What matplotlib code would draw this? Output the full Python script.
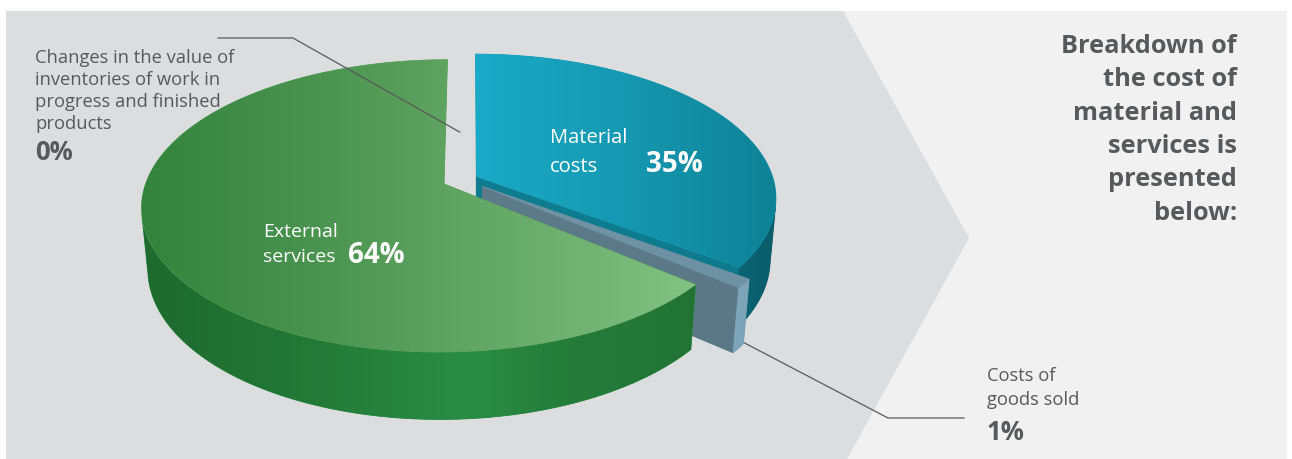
import numpy as np
import matplotlib.pyplot as plt
from matplotlib.colors import LinearSegmentedColormap
from matplotlib.patches import Polygon

W, H = 1292, 459

# cost structure, clockwise from 12 o'clock
labels = ["Material\ncosts", "Costs of\ngoods sold", "External\nservices",
          "Changes in the value of\ninventories of work in\nprogress and finished\nproducts"]
shares = [35, 1, 64, 0]
explode = [0.022, 0.068, 0.098, 0.0]
# small sideways nudge of the thin slice (world units)
nudge = [(0.0, 0.0), (-0.014, -0.018), (0.0, 0.0), (0.0, 0.0)]

TEXT_GREY = "#58595b"
BG_LIGHT = "#f1f1f1"
BG_DARK = "#dcdddf"
FONT = "Open Sans"

# perspective camera for the disc (unit radius, top at z=0)
TILT = np.radians(28.4)
DIST = 5.9
FOCAL = 1750.0
THICK = 0.236
CX, CY = 470.5, 178.0
CAM = np.array([0.0, -DIST * np.cos(TILT), DIST * np.sin(TILT)])


def proj(u, v, z):
    u, v, z = np.asarray(u, float), np.asarray(v, float), np.asarray(z, float)
    depth = DIST + v * np.cos(TILT) - z * np.sin(TILT)
    yc = v * np.sin(TILT) + z * np.cos(TILT)
    return CX + FOCAL * u / depth, CY - FOCAL * yc / depth


def fill_grad(ax, pts, stops, zorder):
    xs = [s[0] for s in stops]
    cols = [s[1] for s in stops]
    base = Polygon(pts, closed=True, facecolor=cols[len(cols) // 2],
                   edgecolor=cols[len(cols) // 2], linewidth=0.6, zorder=zorder)
    ax.add_patch(base)
    x0, x1 = xs[0], xs[-1]
    if x1 == x0:
        return
    pos = [(x - x0) / (x1 - x0) for x in xs]
    cmap = LinearSegmentedColormap.from_list("face", list(zip(pos, cols)))
    im = ax.imshow(np.linspace(0, 1, 512)[None, :], cmap=cmap,
                   extent=(x0, x1, H, 0), aspect="auto",
                   interpolation="bilinear", zorder=zorder + 0.01)
    im.set_clip_path(base)


STYLES = [
    dict(top=[(470, "#1aabc8"), (620, "#1699b2"), (780, "#0e8195")],
         rim=[(700, "#0c6b7b"), (780, "#0a5b69")],
         face=[(470, "#0f7d91"), (760, "#0f7a8d")]),
    dict(top=[(470, "#6e92a3"), (760, "#6e92a3")],
         rim=[(700, "#84abbf"), (760, "#7aa1b4")],
         face=[(470, "#5e7b89"), (760, "#5b7886")]),
    dict(top=[(140, "#33833d"), (300, "#48924e"), (445, "#5ea360"),
              (600, "#73b575"), (705, "#84c485")],
         rim=[(140, "#1e6a2f"), (300, "#237836"), (470, "#2a8d45"),
              (560, "#257d3a"), (705, "#217334")],
         face=[(140, "#237836"), (705, "#237836")]),
    None,
]

fig = plt.figure(figsize=(W / 100, H / 100), dpi=100)
ax = fig.add_axes([0, 0, 1, 1])
ax.set_xlim(0, W)
ax.set_ylim(H, 0)
ax.axis("off")

# background panel with chevron
ax.add_patch(Polygon([(6, 11), (1287, 11), (1287, H), (6, H)],
                     facecolor=BG_LIGHT, edgecolor="none", zorder=0))
ax.add_patch(Polygon([(6, 11), (843, 11), (969, 238), (847, H), (6, H)],
                     facecolor=BG_DARK, edgecolor="none", zorder=0.1))

# slice angles
angles = []
start = 90.0
for s in shares:
    span = s * 3.6
    angles.append((start - span, start))
    start -= span

z = 1.0
slice_offsets = []
for i, (share, (a_lo, a_hi)) in enumerate(zip(shares, angles)):
    mid = np.radians((a_lo + a_hi) / 2)
    off = explode[i] * np.array([np.cos(mid), np.sin(mid)]) + np.array(nudge[i])
    slice_offsets.append(off)
    if share == 0:
        continue
    st = STYLES[i]
    th = np.radians(np.linspace(a_lo, a_hi, 200))
    ru, rv = off[0] + np.cos(th), off[1] + np.sin(th)
    tx, ty = proj(ru, rv, 0)
    bx, by = proj(ru, rv, -THICK)
    ax0, ay0 = proj(off[0], off[1], 0)
    bx0, by0 = proj(off[0], off[1], -THICK)

    # radial cut faces (edge-on ones are left out)
    for a, sign in ((a_lo, -1), (a_hi, 1)):
        ar = np.radians(a)
        n = np.array([np.cos(ar + sign * np.pi / 2), np.sin(ar + sign * np.pi / 2), 0])
        p = np.array([off[0], off[1], -THICK / 2])
        if np.dot(n, CAM - p) <= 0.15:
            continue
        ex, ey = proj(off[0] + np.cos(ar), off[1] + np.sin(ar), 0)
        fx, fy = proj(off[0] + np.cos(ar), off[1] + np.sin(ar), -THICK)
        fill_grad(ax, [(ax0, ay0), (ex, ey), (fx, fy), (bx0, by0)], st["face"], z)
    z += 0.1

    # outer rim, front part only
    vis = (np.cos(th) * (CAM[0] - ru) + np.sin(th) * (CAM[1] - rv)) > 0
    if vis.any():
        idx = np.where(vis)[0]
        pts = list(zip(tx[idx], ty[idx])) + list(zip(bx[idx][::-1], by[idx][::-1]))
        fill_grad(ax, pts, st["rim"], z)
    z += 0.1

    # top surface
    pts = [(ax0, ay0)] + list(zip(tx, ty))
    fill_grad(ax, pts, st["top"], z)
    z += 0.8


def stacked(x, y0, lines, step, **kw):
    for k, line in enumerate(lines):
        ax.text(x, y0 + k * step, line, va="baseline", **kw)


# labels inside slices
stacked(550, 143, ["Material", "costs"], 29, color="white", fontsize=14.5,
        family=FONT, zorder=20)
ax.text(646, 172, f"{shares[0]}%", color="white", fontsize=20,
        fontweight="bold", family=FONT, va="baseline", zorder=20)
stacked(263, 237, ["External", "services"], 25, color="white", fontsize=14,
        family=FONT, zorder=20)
ax.text(348, 263, f"{shares[2]}%", color="white", fontsize=20,
        fontweight="bold", family=FONT, va="baseline", zorder=20)

# outside labels with leaders
stacked(35, 63, labels[3].split("\n"), 22, color=TEXT_GREY, fontsize=13.2,
        family=FONT, zorder=20)
ax.text(35, 160, f"{shares[3]}%", color=TEXT_GREY, fontsize=18.5,
        fontweight="bold", family=FONT, va="baseline", zorder=20)
gx, gy = proj(-0.038, 0.342, 0)
ax.plot([218, 293, float(gx)], [38, 38, float(gy)], color=TEXT_GREY, lw=0.9, zorder=15)

stacked(987, 381, labels[1].split("\n"), 24, color=TEXT_GREY, fontsize=13.2,
        family=FONT, zorder=20)
ax.text(987, 440, f"{shares[1]}%", color=TEXT_GREY, fontsize=18.5,
        fontweight="bold", family=FONT, va="baseline", zorder=20)
off = slice_offsets[1]
ar = np.radians(angles[1][0] + 0.6)
kx, ky = proj(off[0] + np.cos(ar), off[1] + np.sin(ar), -THICK * 0.8)
ax.plot([float(kx), 888, 964], [float(ky), 418, 418], color=TEXT_GREY, lw=0.9, zorder=0.5)

# heading
title = ["Breakdown of", "the cost of", "material and", "services is",
         "presented", "below:"]
for k, line in enumerate(title):
    ax.text(1237, 53 + k * 33.3, line, ha="right", va="baseline",
            color=TEXT_GREY, fontsize=18.3, fontweight="bold", family=FONT,
            zorder=20)

fig.savefig("out.png", dpi=100, facecolor="white")
